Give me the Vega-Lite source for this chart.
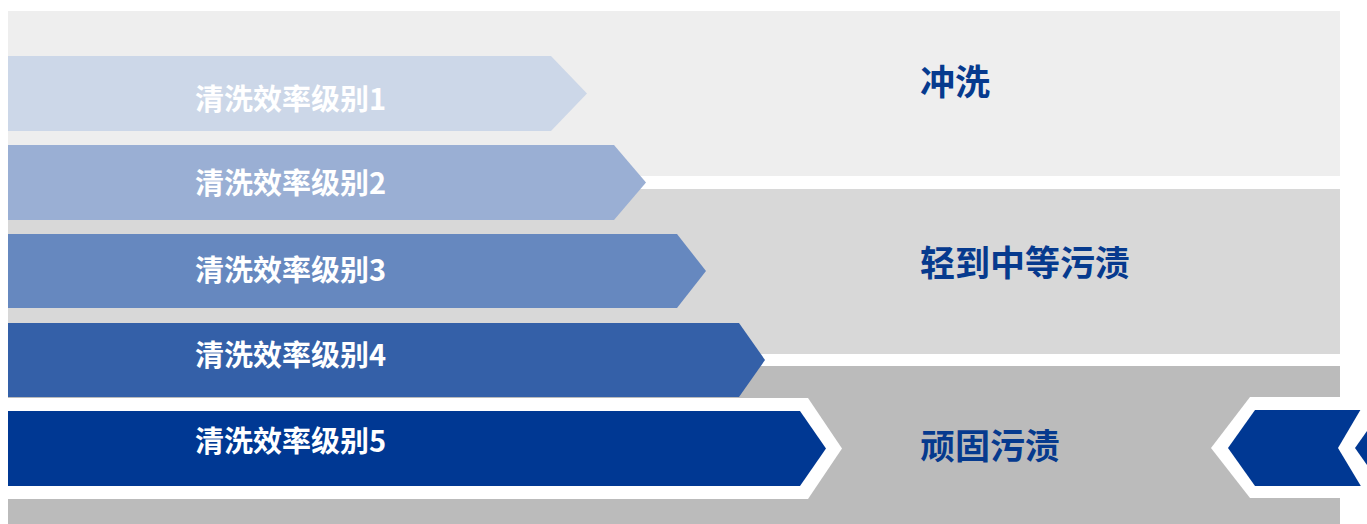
{
  "$schema": "https://vega.github.io/schema/vega-lite/v6.json",
  "width": 1367,
  "height": 524,
  "autosize": {"type": "fit", "contains": "padding"},
  "padding": 0,
  "background": "#ffffff",
  "config": {"view": {"stroke": null}},
  "datasets": {
    "zones": [
      {"zone": "冲洗", "left": 8, "right": 1340, "top": 11, "bottom": 176},
      {"zone": "轻到中等污渍", "left": 8, "right": 1340, "top": 189, "bottom": 354},
      {"zone": "顽固污渍", "left": 8, "right": 1340, "top": 366, "bottom": 524}
    ],
    "shapes": [
      {"shape": "o5", "layer": 1, "x": 8, "top": 398, "bottom": 499},
      {"shape": "o5", "layer": 1, "x": 808, "top": 398, "bottom": 499},
      {"shape": "o5", "layer": 1, "x": 842, "top": 448.5, "bottom": 448.5},
      {"shape": "oA", "layer": 1, "x": 1211, "top": 448, "bottom": 448},
      {"shape": "oA", "layer": 1, "x": 1250, "top": 397, "bottom": 498},
      {"shape": "oA", "layer": 1, "x": 1400, "top": 397, "bottom": 498},
      {"shape": "a1", "layer": 2, "x": 8, "top": 56, "bottom": 131},
      {"shape": "a1", "layer": 2, "x": 551, "top": 56, "bottom": 131},
      {"shape": "a1", "layer": 2, "x": 587, "top": 93.5, "bottom": 93.5},
      {"shape": "a2", "layer": 2, "x": 8, "top": 145, "bottom": 220},
      {"shape": "a2", "layer": 2, "x": 614, "top": 145, "bottom": 220},
      {"shape": "a2", "layer": 2, "x": 646, "top": 182.5, "bottom": 182.5},
      {"shape": "a3", "layer": 2, "x": 8, "top": 234, "bottom": 308},
      {"shape": "a3", "layer": 2, "x": 677, "top": 234, "bottom": 308},
      {"shape": "a3", "layer": 2, "x": 706, "top": 271, "bottom": 271},
      {"shape": "a4", "layer": 2, "x": 8, "top": 323, "bottom": 397},
      {"shape": "a4", "layer": 2, "x": 739, "top": 323, "bottom": 397},
      {"shape": "a4", "layer": 2, "x": 765, "top": 360, "bottom": 360},
      {"shape": "a5", "layer": 2, "x": 8, "top": 411, "bottom": 486},
      {"shape": "a5", "layer": 2, "x": 800, "top": 411, "bottom": 486},
      {"shape": "a5", "layer": 2, "x": 826, "top": 448.5, "bottom": 448.5},
      {"shape": "aA", "layer": 2, "x": 1228, "top": 448, "bottom": 448},
      {"shape": "aA", "layer": 2, "x": 1255, "top": 410, "bottom": 486},
      {"shape": "aA", "layer": 2, "x": 1400, "top": 410, "bottom": 486},
      {"shape": "oB", "layer": 3, "x": 1338, "top": 448, "bottom": 448},
      {"shape": "oB", "layer": 3, "x": 1368, "top": 397, "bottom": 498},
      {"shape": "oB", "layer": 3, "x": 1400, "top": 397, "bottom": 498},
      {"shape": "aB", "layer": 4, "x": 1355, "top": 448, "bottom": 448},
      {"shape": "aB", "layer": 4, "x": 1382, "top": 410, "bottom": 486},
      {"shape": "aB", "layer": 4, "x": 1400, "top": 410, "bottom": 486}
    ],
    "arrowLabels": [
      {"label": "清洗效率级别1", "x": 195, "y": 101},
      {"label": "清洗效率级别2", "x": 195, "y": 185},
      {"label": "清洗效率级别3", "x": 195, "y": 272},
      {"label": "清洗效率级别4", "x": 195, "y": 357},
      {"label": "清洗效率级别5", "x": 195, "y": 443}
    ],
    "zoneLabels": [
      {"label": "冲洗", "x": 920, "y": 84},
      {"label": "轻到中等污渍", "x": 920, "y": 265},
      {"label": "顽固污渍", "x": 920, "y": 448}
    ]
  },
  "layer": [
    {
      "data": {"name": "zones"},
      "mark": {"type": "rect"},
      "encoding": {
        "x": {"field": "left", "type": "quantitative", "scale": {"domain": [0, 1367], "nice": false, "zero": false}, "axis": null},
        "x2": {"field": "right"},
        "y": {"field": "top", "type": "quantitative", "scale": {"domain": [0, 524], "nice": false, "zero": false, "reverse": true}, "axis": null},
        "y2": {"field": "bottom"},
        "fill": {"field": "zone", "type": "nominal", "scale": {"domain": ["冲洗", "轻到中等污渍", "顽固污渍"], "range": ["#eeeeee", "#d8d8d8", "#bbbbbb"]}, "legend": null}
      }
    },
    {
      "data": {"name": "shapes"},
      "transform": [{"filter": "datum.layer == 1"}],
      "mark": {"type": "area", "clip": true, "fill": "#ffffff", "interpolate": "linear"},
      "encoding": {
        "x": {"field": "x", "type": "quantitative", "axis": null},
        "y": {"field": "top", "type": "quantitative", "axis": null},
        "y2": {"field": "bottom"},
        "detail": {"field": "shape", "type": "nominal"}
      }
    },
    {
      "data": {"name": "shapes"},
      "transform": [{"filter": "datum.layer == 2"}],
      "mark": {"type": "area", "clip": true, "interpolate": "linear"},
      "encoding": {
        "x": {"field": "x", "type": "quantitative", "axis": null},
        "y": {"field": "top", "type": "quantitative", "axis": null},
        "y2": {"field": "bottom"},
        "color": {"field": "shape", "type": "nominal", "scale": {"domain": ["a1", "a2", "a3", "a4", "a5", "aA", "aB"], "range": ["#ccd7e8", "#9aafd4", "#6688bf", "#3460a8", "#003893", "#003893", "#003893"]}, "legend": null}
      }
    },
    {
      "data": {"name": "shapes"},
      "transform": [{"filter": "datum.layer == 3"}],
      "mark": {"type": "area", "clip": true, "fill": "#ffffff", "interpolate": "linear"},
      "encoding": {
        "x": {"field": "x", "type": "quantitative", "axis": null},
        "y": {"field": "top", "type": "quantitative", "axis": null},
        "y2": {"field": "bottom"},
        "detail": {"field": "shape", "type": "nominal"}
      }
    },
    {
      "data": {"name": "shapes"},
      "transform": [{"filter": "datum.layer == 4"}],
      "mark": {"type": "area", "clip": true, "interpolate": "linear"},
      "encoding": {
        "x": {"field": "x", "type": "quantitative", "axis": null},
        "y": {"field": "top", "type": "quantitative", "axis": null},
        "y2": {"field": "bottom"},
        "color": {"field": "shape", "type": "nominal", "scale": {"domain": ["a1", "a2", "a3", "a4", "a5", "aA", "aB"], "range": ["#ccd7e8", "#9aafd4", "#6688bf", "#3460a8", "#003893", "#003893", "#003893"]}, "legend": null}
      }
    },
    {
      "data": {"name": "arrowLabels"},
      "mark": {"type": "text", "align": "left", "baseline": "middle", "font": "Noto Sans CJK SC", "fontSize": 29, "fontWeight": "bold", "fill": "#ffffff"},
      "encoding": {
        "x": {"field": "x", "type": "quantitative", "axis": null},
        "y": {"field": "y", "type": "quantitative", "axis": null},
        "text": {"field": "label"}
      }
    },
    {
      "data": {"name": "zoneLabels"},
      "mark": {"type": "text", "align": "left", "baseline": "middle", "font": "Noto Sans CJK SC", "fontSize": 35, "fontWeight": "bold", "fill": "#063a8e"},
      "encoding": {
        "x": {"field": "x", "type": "quantitative", "axis": null},
        "y": {"field": "y", "type": "quantitative", "axis": null},
        "text": {"field": "label"}
      }
    }
  ]
}
